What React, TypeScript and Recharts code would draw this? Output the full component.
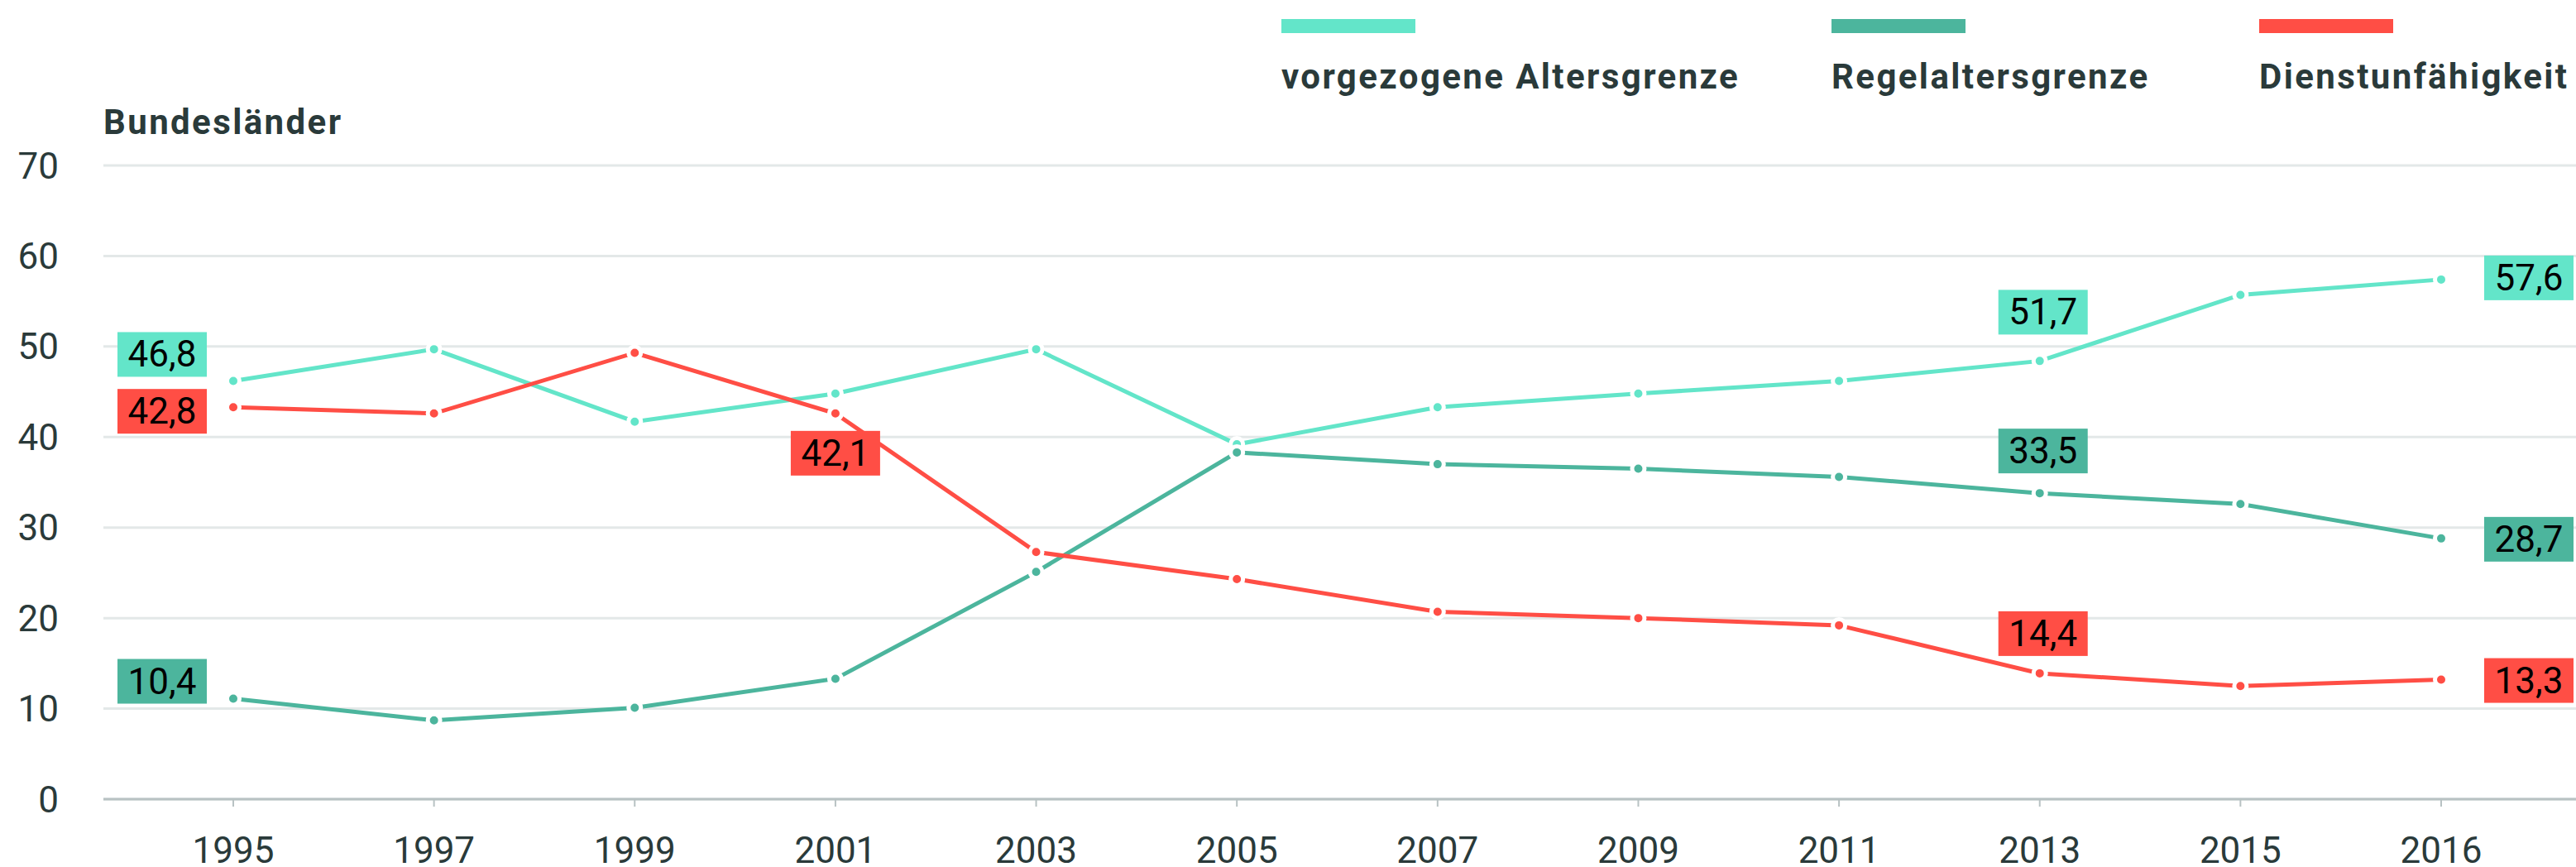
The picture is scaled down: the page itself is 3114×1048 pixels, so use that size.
import React from 'react';
import { LineChart, Line, XAxis, YAxis, CartesianGrid, LabelList } from 'recharts';

// ---------- data ----------
const years = ['1995', '1997', '1999', '2001', '2003', '2005', '2007', '2009', '2011', '2013', '2015', '2016'];
const vorgezogene = [46.2, 49.7, 41.7, 44.8, 49.7, 39.2, 43.3, 44.8, 46.2, 48.4, 55.7, 57.4];
const regelalter = [11.1, 8.7, 10.1, 13.3, 25.1, 38.3, 37.0, 36.5, 35.6, 33.8, 32.6, 28.8];
const dienstunf = [43.3, 42.6, 49.3, 42.6, 27.3, 24.3, 20.7, 20.0, 19.2, 13.9, 12.5, 13.2];
const yTicks = [0, 10, 20, 30, 40, 50, 60, 70];
const seriesNames = ['vorgezogene Altersgrenze', 'Regelaltersgrenze', 'Dienstunfähigkeit'];
const axisTitle = 'Bundesländer';

// annotation texts (index into years)
const vorLabels = [
  { index: 0, text: '46,8' },
  { index: 9, text: '51,7' },
  { index: 11, text: '57,6' },
];
const regLabels = [
  { index: 0, text: '10,4' },
  { index: 9, text: '33,5' },
  { index: 11, text: '28,7' },
];
const dienstLabels = [
  { index: 0, text: '42,8' },
  { index: 3, text: '42,1' },
  { index: 9, text: '14,4' },
  { index: 11, text: '13,3' },
];

// ---------- styling / placement (kept apart from data) ----------
const colors = ['#63e5c9', '#4cb59d', '#ff4e45'];
const textColor = '#2a3a3a';
const FONT = 'Roboto, "Noto Sans", sans-serif';

const placement: Record<string, { dx: number; dy: number }> = {
  'vor-0': { dx: -86, dy: -32 },
  'vor-9': { dx: 4, dy: -59 },
  'vor-11': { dx: 106, dy: -2 },
  'reg-0': { dx: -86, dy: -21 },
  'reg-9': { dx: 4, dy: -51 },
  'reg-11': { dx: 106, dy: 1 },
  'dienst-0': { dx: -86, dy: 5 },
  'dienst-3': { dx: 0, dy: 48 },
  'dienst-9': { dx: 4, dy: -48 },
  'dienst-11': { dx: 106, dy: 1 },
};

const data = years.map((year, i) => ({
  year,
  vor: vorgezogene[i],
  reg: regelalter[i],
  dienst: dienstunf[i],
}));

const BOX_W = 108;
const BOX_H = 54;

function makeLabel(key: string, labels: { index: number; text: string }[], color: string) {
  return (props: any) => {
    const idx = props.index;
    const found = labels.find((l) => l.index === idx);
    if (!found) return null;
    const px = props.viewBox && props.viewBox.x != null ? props.viewBox.x : props.x;
    const py = props.viewBox && props.viewBox.y != null ? props.viewBox.y : props.y;
    const p = placement[`${key}-${idx}`] || { dx: 0, dy: 0 };
    const cx = px + p.dx;
    const cy = py + p.dy;
    return (
      <g>
        <rect x={cx - BOX_W / 2} y={cy - BOX_H / 2} width={BOX_W} height={BOX_H} fill={color} />
        <text
          x={cx}
          y={cy}
          textAnchor="middle"
          dominantBaseline="central"
          fontSize={44}
          fontFamily={FONT}
          fill="#000"
        >
          {found.text}
        </text>
      </g>
    );
  };
}

const dotStyle = (color: string) => ({ r: 7.5, fill: color, stroke: '#ffffff', strokeWidth: 5 });

export default function App() {
  return (
    <div style={{ position: 'absolute', left: 0, top: 0, width: 3114, height: 1048, fontFamily: FONT, background: '#fff' }}>
      {/* legend */}
      {seriesNames.map((name, i) => {
        const lefts = [1549, 2214, 2731];
        return (
          <div key={name} style={{ position: 'absolute', left: lefts[i], top: 23 }}>
            <div style={{ width: 162, height: 17, background: colors[i] }} />
            <div
              style={{
                position: 'absolute',
                left: 0,
                top: 49,
                whiteSpace: 'nowrap',
                fontSize: 42,
                lineHeight: '42px',
                fontWeight: 700,
                color: textColor,
                letterSpacing: 2.4,
              }}
            >
              {name}
            </div>
          </div>
        );
      })}
      {/* axis title */}
      <div
        style={{
          position: 'absolute',
          left: 125,
          top: 127,
          fontSize: 42,
          lineHeight: '42px',
          fontWeight: 700,
          color: textColor,
          letterSpacing: 2.4,
          whiteSpace: 'nowrap',
        }}
      >
        {axisTitle}
      </div>
      <LineChart
        width={3114}
        height={1048}
        data={data}
        margin={{ top: 200, right: 0, bottom: 0, left: 0 }}
      >
        <CartesianGrid vertical={false} stroke="#e3e8e8" strokeWidth={3} />
        <XAxis
          dataKey="year"
          scale="point"
          padding={{ left: 157, right: 163 }}
          interval={0}
          height={82}
          tickSize={9}
          tickMargin={37}
          axisLine={{ stroke: '#b8c2c3', strokeWidth: 3 }}
          tickLine={{ stroke: '#b8c2c3', strokeWidth: 2 }}
          tick={{ fill: textColor, fontSize: 44, fontFamily: FONT }}
        />
        <YAxis
          width={125}
          domain={[0, 70]}
          ticks={yTicks}
          interval={0}
          axisLine={false}
          tickLine={false}
          tickSize={0}
          tickMargin={54}
          tick={{ fill: textColor, fontSize: 44, fontFamily: FONT }}
        />
        <Line
          dataKey="vor"
          name={seriesNames[0]}
          stroke={colors[0]}
          strokeWidth={5}
          dot={dotStyle(colors[0])}
          activeDot={false}
          isAnimationActive={false}
        >
          <LabelList dataKey="vor" content={makeLabel('vor', vorLabels, colors[0])} />
        </Line>
        <Line
          dataKey="reg"
          name={seriesNames[1]}
          stroke={colors[1]}
          strokeWidth={5}
          dot={dotStyle(colors[1])}
          activeDot={false}
          isAnimationActive={false}
        >
          <LabelList dataKey="reg" content={makeLabel('reg', regLabels, colors[1])} />
        </Line>
        <Line
          dataKey="dienst"
          name={seriesNames[2]}
          stroke={colors[2]}
          strokeWidth={5}
          dot={dotStyle(colors[2])}
          activeDot={false}
          isAnimationActive={false}
        >
          <LabelList dataKey="dienst" content={makeLabel('dienst', dienstLabels, colors[2])} />
        </Line>
      </LineChart>
    </div>
  );
}
